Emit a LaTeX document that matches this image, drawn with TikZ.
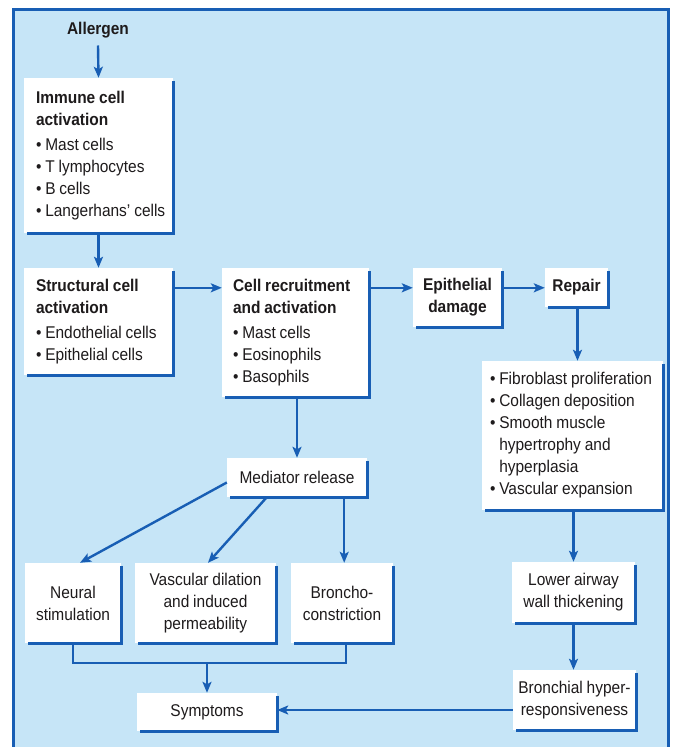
\documentclass[tikz,border=0pt]{standalone}
\usepackage{fontspec}
\setmainfont{Liberation Sans}[FakeStretch=0.91,WordSpace=0.9]
\usetikzlibrary{arrows.meta,calc}
\definecolor{bgblue}{RGB}{198,229,247}
\definecolor{lnblue}{RGB}{24,94,180}
\definecolor{txgray}{RGB}{30,27,28}
\newcommand\boxshade[1]{\draw[shadeline] ([yshift=-3pt]#1.north east) -- (#1.south east) -- ([xshift=3pt]#1.south west);}
\newcommand\lpad[1]{\leftskip=#1\spaceskip=0pt\xspaceskip=0pt\relax}
\begin{document}
\begin{tikzpicture}[x=1pt,y=-1pt,
  font=\fontsize{17}{22}\selectfont, text=txgray,
  lbox/.style={fill=white, inner xsep=0pt, inner ysep=0pt, align=left},
  cbox/.style={fill=white, inner sep=0pt, align=center},
  arr/.style={draw=lnblue, line width=2.4pt, -{Stealth[length=11pt,width=9pt,inset=2.5pt]}},
  conn/.style={draw=lnblue, line width=2.4pt},
  shadeline/.style={draw=lnblue, line width=2.8pt}
]
\clip (0,0) rectangle (673,747);
\useasboundingbox (0,0) rectangle (673,747);
\fill[white] (0,0) rectangle (673,747);
\draw[draw=lnblue, line width=3pt, fill=bgblue] (13.5,9) rectangle (668.5,780);

% nodes
\node[font=\fontsize{17}{22}\selectfont\bfseries] (alg) at (98,30) {Allergen};
\node[lbox, text width=149pt, minimum height=155pt] (imm) at (98.5,155.5)
  {\lpad{12pt}\textbf{Immune cell}\\\textbf{activation}\\[3pt]• Mast cells\\• T lymphocytes\\• B cells\\• Langerhans' cells\par};
\node[lbox, text width=149pt, minimum height=107pt] (str) at (98.5,321.5)
  {\lpad{12pt}\textbf{Structural cell}\\\textbf{activation}\\[3pt]• Endothelial cells\\• Epithelial cells\par};
\node[lbox, text width=147pt, minimum height=129pt] (rec) at (295.5,332.5)
  {\lpad{11pt}\textbf{Cell recruitment}\\\textbf{and activation}\\[3pt]• Mast cells\\• Eosinophils\\• Basophils\par};
\node[cbox, minimum width=89pt, minimum height=59pt, font=\fontsize{17}{22}\selectfont\bfseries] (epi) at (457.5,297.5)
  {Epithelial\\damage};
\node[cbox, minimum width=63pt, minimum height=39pt, font=\fontsize{17}{22}\selectfont\bfseries] (rep) at (576.5,287.5)
  {Repair};
\node[lbox, text width=181pt, minimum height=149pt] (lst) at (572.5,435.5)
  {\lpad{8pt}• Fibroblast proliferation\\• Collagen deposition\\• Smooth muscle\\\phantom{• }hypertrophy and\\\phantom{• }hyperplasia\\• Vascular expansion\par};
\node[cbox, minimum width=140pt, minimum height=39pt] (med) at (297,477.5) {Mediator release};
\node[cbox, minimum width=96pt, minimum height=80pt] (neu) at (73,603) {Neural\\stimulation};
\node[cbox, minimum width=141pt, minimum height=80pt] (vas) at (205.5,603) {Vascular dilation\\and induced\\permeability};
\node[cbox, minimum width=102pt, minimum height=80pt] (bro) at (342,603) {Broncho-\\constriction};
\node[cbox, minimum width=140pt, minimum height=38pt] (sym) at (207,712) {Symptoms};
\node[cbox, minimum width=123pt, minimum height=61pt] (low) at (573.5,592.5) {Lower airway\\wall thickening};
\node[cbox, minimum width=123pt, minimum height=60pt] (bhr) at (574.5,700) {Bronchial hyper-\\responsiveness};

\foreach \n in {imm,str,rec,epi,rep,lst,med,neu,vas,bro,sym,low,bhr}{\boxshade{\n}}

% connectors
\draw[arr] ([yshift=-4pt]alg.south) -- (imm.north);
\draw[arr] (imm.south) -- (str.north);
\draw[arr] ([yshift=-20pt]str.north east) -- ([yshift=-20pt]rec.north west);
\draw[arr] ([yshift=-20pt]rec.north east) -- ([yshift=-20pt]epi.north west);
\draw[arr] ([yshift=-20pt]epi.north east) -- ([yshift=-20pt]rep.north west);
\draw[arr] ([xshift=1pt]rep.south) -- ([xshift=1pt]rep.south |- lst.north);
\draw[arr] (low.north |- lst.south) -- (low.north);
\draw[arr] (low.south) -- (low.south |- bhr.north);
\draw[arr] ([yshift=-10pt]bhr.west) -- ([yshift=-10pt]bhr.west -| sym.east);
\draw[arr] (med.north |- rec.south) -- (med.north);
\draw[arr] ([yshift=-5pt]med.west) -- ([xshift=7pt]neu.north);
\draw[arr] ([xshift=40pt]med.south west) -- ([xshift=2.5pt]vas.north);
\draw[arr] ([xshift=-23pt]med.south east) -- ([xshift=-23pt]med.south east |- bro.north);
\coordinate (jn) at (207,663);
\draw[conn] (neu.south) -- (neu.south |- jn) -- ([xshift=4pt]bro.south |- jn) -- ([xshift=4pt]bro.south);
\draw[arr] (jn) -- (sym.north);
\end{tikzpicture}
\end{document}
